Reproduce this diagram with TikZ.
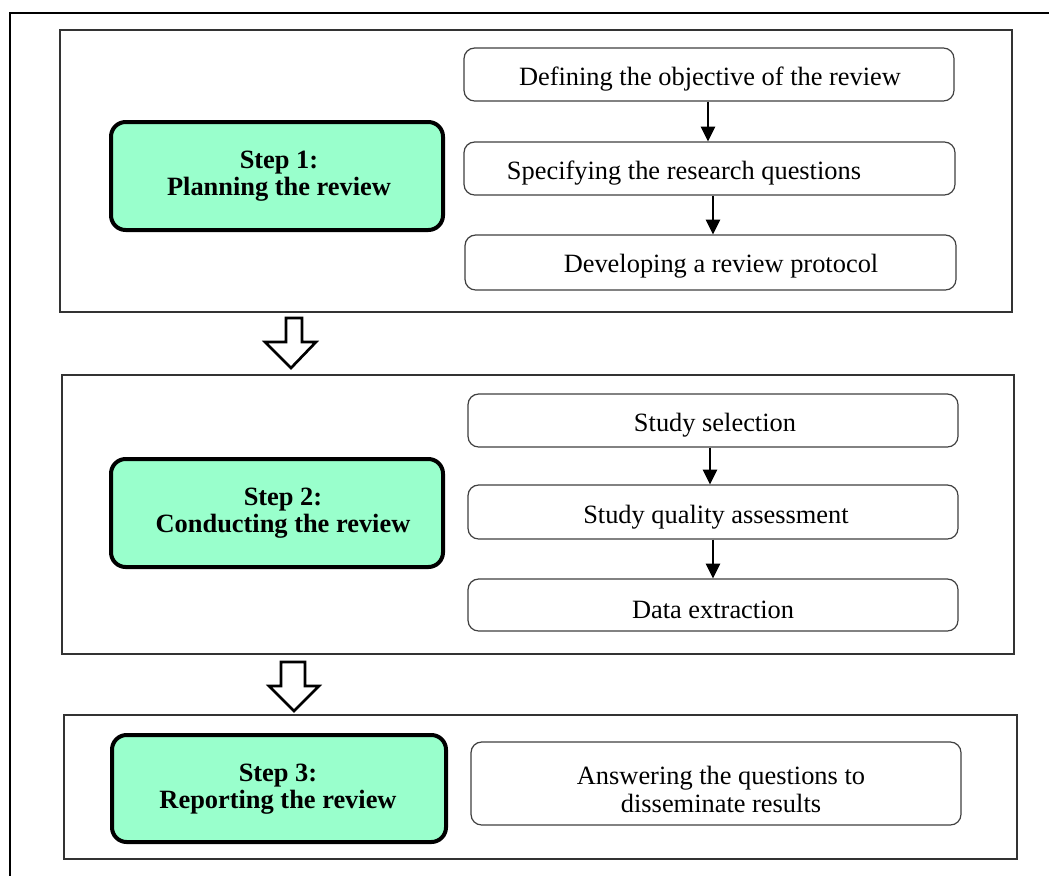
\documentclass[tikz,border=0pt]{standalone}
\usepackage{fontspec}
\setmainfont{Liberation Serif}
\usetikzlibrary{arrows.meta,fit}
\definecolor{stepgreen}{RGB}{153,255,204}

\begin{document}
\begin{tikzpicture}[x=0.75pt,y=-0.75pt,
  panel/.style={draw=black!80,line width=1pt,inner sep=0pt,fill=white},
  stepbox/.style={draw=black,line width=3pt,fill=stepgreen,rounded corners=11pt,inner sep=0pt},
  taskbox/.style={draw=black!75,line width=0.9pt,fill=white,rounded corners=8pt,inner sep=0pt},
  steptext/.style={font=\fontsize{19.8}{20.3}\selectfont\bfseries,align=center,inner sep=0pt},
  tasktext/.style={font=\fontsize{19.8}{21}\selectfont,align=center,inner sep=0pt},
  flow/.style={-{Triangle[length=11pt,width=10.5pt]},line width=1.5pt},
  bigarrow/.style={draw=black,line width=2pt,fill=white,line join=miter}]

\useasboundingbox (0,0) rectangle (1049,875);
\clip (0,0) rectangle (1049,875);
\fill[white] (0,0) rectangle (1049,875);

% outer frame
\draw[line width=1.4pt] (10,900) -- (10,13) -- (1070,13);

% ---------- Step 1 ----------
\node[panel,fit={(60,30) (1012,312)}] (p1) {};
\node[stepbox,fit={(111,122) (443,230)}] (s1) {};
\node[steptext] (s1t) at (279,176) {Step 1:\\Planning the review};

\node[taskbox,fit={(464,48) (954,101)}] (a1) {};
\node[taskbox,fit={(464,142) (955,195)}] (a2) {};
\node[taskbox,fit={(465,235) (956,290)}] (a3) {};
\node[tasktext] (a1t) at (710,79) {Defining the objective of the review};
\node[tasktext] (a2t) at (684,173) {Specifying the research questions};
\node[tasktext] (a3t) at (721,266) {Developing a review protocol};

\draw[flow] (a1.south -| 708,0) -- (a2.north -| 708,0);
\draw[flow] (a2.south -| 713,0) -- (a3.north -| 713,0);

% ---------- transition 1 -> 2 ----------
\draw[bigarrow] (286,318) -- (302,318) -- (302,342) -- (316,342) -- (291,368)
  -- (265,342) -- (286,342) -- cycle;

% ---------- Step 2 ----------
\node[panel,fit={(62,375) (1014,654)}] (p2) {};
\node[stepbox,fit={(111,459) (443,567)}] (s2) {};
\node[steptext] (s2t) at (283,513) {Step 2:\\Conducting the review};

\node[taskbox,fit={(468,394) (958,447)}] (b1) {};
\node[taskbox,fit={(468,485) (958,539)}] (b2) {};
\node[taskbox,fit={(468,579) (958,631)}] (b3) {};
\node[tasktext] (b1t) at (715,425) {Study selection};
\node[tasktext] (b2t) at (716,517) {Study quality assessment};
\node[tasktext] (b3t) at (713,610) {Data extraction};

\draw[flow] (b1.south -| 710,0) -- (b2.north -| 710,0);
\draw[flow] (b2.south -| 713,0) -- (b3.north -| 713,0);

% ---------- transition 2 -> 3 ----------
\draw[bigarrow] (281,662) -- (305,662) -- (305,686) -- (319,686) -- (294,711)
  -- (269,686) -- (281,686) -- cycle;

% ---------- Step 3 ----------
\node[panel,fit={(64,715) (1017,859)}] (p3) {};
\node[stepbox,fit={(112,735) (446,842)}] (s3) {};
\node[steptext] (s3t) at (278,789) {Step 3:\\Reporting the review};

\node[taskbox,fit={(471,742) (961,825)}] (c1) {};
\node[tasktext] (c1t) at (721,789) {Answering the questions to\\disseminate results};

\end{tikzpicture}
\end{document}
